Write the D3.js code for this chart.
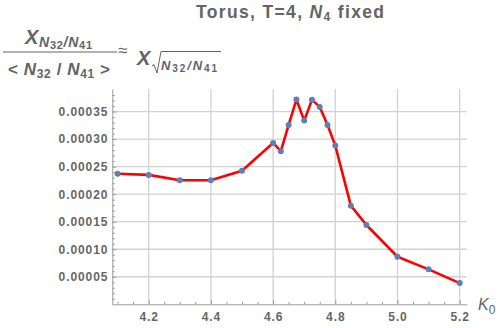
<!DOCTYPE html>
<html>
<head>
<meta charset="utf-8">
<script src="https://cdn.jsdelivr.net/npm/d3@7"></script>
<style>
  body { margin: 0; background: #fff; }
  svg { font-family: "Liberation Sans", Arial, sans-serif; }
  .tickLabel { font-size: 12px; font-weight: bold; fill: #666; letter-spacing: 0.9px; }
</style>
</head>
<body>
<svg id="chart" width="500" height="328"></svg>
<script>
const kValues = [4.1, 4.2, 4.3, 4.4, 4.5, 4.6, 4.625, 4.65, 4.675, 4.7, 4.725, 4.75, 4.775, 4.8, 4.85, 4.9, 5.0, 5.1, 5.2];
const chiValues = [0.000237, 0.000235, 0.0002253, 0.0002253, 0.0002427, 0.0002931, 0.000278, 0.0003258, 0.0003718,
    0.0003336, 0.0003713, 0.0003585, 0.0003258, 0.0002882, 0.0001791, 0.000144, 0.0000864, 0.0000635, 0.0000385];
const xTicks = [4.2, 4.4, 4.6, 4.8, 5.0, 5.2];
const yTicks = [0.00005, 0.0001, 0.00015, 0.0002, 0.00025, 0.0003, 0.00035];

const axisColor = '#9a9a9a';
const gridColor = '#d2d2d2';
const textColor = '#646464';

const svg = d3.select('#chart');

const x = d3.scaleLinear().domain([4.083, 5.2225]).range([112.3, 466.7]);
const y = d3.scaleLinear().domain([0, 0.000391]).range([304.3, 89]);

// grid
svg.append('g')
    .selectAll('line')
    .data(xTicks)
    .join('line')
        .attr('x1', d => x(d)).attr('x2', d => x(d))
        .attr('y1', y.range()[1]).attr('y2', y.range()[0])
        .style('stroke', gridColor).style('stroke-width', 1.3);

svg.append('g')
    .selectAll('line')
    .data(yTicks)
    .join('line')
        .attr('x1', x.range()[0]).attr('x2', x.range()[1])
        .attr('y1', d => y(d)).attr('y2', d => y(d))
        .style('stroke', gridColor).style('stroke-width', 1.3);

// minor ticks
const xMinor = d3.range(4.1, 5.21, 0.05).filter(v => !xTicks.some(t => Math.abs(t - v) < 1e-6));
const yMinor = d3.range(0.00001, 0.00039, 0.00001).filter(v => !yTicks.some(t => Math.abs(t - v) < 1e-9));

const xAxis = svg.append('g').attr('transform', `translate(0, ${y(0)})`);
xAxis.call(d3.axisBottom(x).tickValues(xTicks).tickSize(-4).tickFormat(d3.format('.1f')).tickSizeOuter(0));
xAxis.append('g').call(d3.axisBottom(x).tickValues(xMinor).tickSize(-2.5).tickFormat('').tickSizeOuter(0))
    .select('.domain').remove();

const yAxis = svg.append('g').attr('transform', `translate(${x.range()[0]}, 0)`);
yAxis.call(d3.axisLeft(y).tickValues(yTicks).tickSize(-4).tickFormat(d3.format('.5f')).tickSizeOuter(0));
yAxis.append('g').call(d3.axisLeft(y).tickValues(yMinor).tickSize(-2.5).tickFormat('').tickSizeOuter(0))
    .select('.domain').remove();

svg.selectAll('.domain').style('stroke', axisColor).style('stroke-width', 1);
svg.selectAll('.tick line').style('stroke', axisColor);
svg.selectAll('.tick text').classed('tickLabel', true).attr('font-size', null).attr('font-family', null);
xAxis.selectAll('.tick text').attr('y', 8);
yAxis.selectAll('.tick text').attr('x', -4);

// line and points
const line = d3.line().x((d, i) => x(kValues[i])).y(d => y(d));
svg.append('path')
    .datum(chiValues)
    .attr('d', line)
    .style('fill', 'none')
    .style('stroke', '#ff0000')
    .style('stroke-width', 2.6)
    .style('stroke-linejoin', 'round');

svg.selectAll('.pt')
    .data(chiValues)
    .join('circle')
        .classed('pt', true)
        .attr('cx', (d, i) => x(kValues[i]))
        .attr('cy', d => y(d))
        .attr('r', 3)
        .style('fill', '#5e81b5');

// title
svg.append('text')
    .attr('x', 196).attr('y', 17.5)
    .attr('textLength', 188).attr('lengthAdjust', 'spacing')
    .style('font-size', '17.5px').style('font-weight', 'bold').style('fill', textColor)
    .html('Torus, T=4, <tspan font-style="italic">N</tspan><tspan font-size="12px" dy="3">4</tspan><tspan dy="-3"> fixed</tspan>');

// x label
svg.append('text')
    .attr('x', 478).attr('y', 310)
    .style('font-size', '16px').style('font-style', 'italic').style('fill', textColor)
    .html('K<tspan font-style="normal" font-size="12px" dy="4">0</tspan>');

// y label: fraction
const lab = svg.append('g').style('fill', textColor).style('font-weight', 'bold');
lab.append('text')
    .attr('x', 25).attr('y', 44)
    .attr('textLength', 67).attr('lengthAdjust', 'spacing')
    .style('font-size', '20px')
    .html('<tspan font-style="italic">X</tspan>' +
        '<tspan font-size="14px" dy="3" font-style="italic">N</tspan><tspan font-size="11px" dy="2">32</tspan>' +
        '<tspan font-size="14px" dy="-2" font-style="italic">/N</tspan><tspan font-size="11px" dy="2">41</tspan>');
lab.append('line')
    .attr('x1', 3).attr('x2', 117).attr('y1', 52).attr('y2', 52)
    .style('stroke', textColor).style('stroke-width', 1);
lab.append('text')
    .attr('x', 8).attr('y', 75)
    .attr('textLength', 102).attr('lengthAdjust', 'spacing')
    .style('font-size', '17px')
    .html('&lt; <tspan font-style="italic">N</tspan><tspan font-size="12px" dy="3">32</tspan>' +
        '<tspan dy="-3"> / </tspan><tspan font-style="italic">N</tspan><tspan font-size="12px" dy="3">41</tspan><tspan dy="-3"> &gt;</tspan>');
lab.append('text')
    .attr('x', 118).attr('y', 56)
    .style('font-size', '17px').style('font-weight', 'normal')
    .text('≈');
lab.append('text')
    .attr('x', 137).attr('y', 65)
    .style('font-size', '20px').style('font-style', 'italic')
    .text('X');
lab.append('path')
    .attr('d', 'M152,66 L154,64.5 L157,73 L161,51.5 L221,51.5')
    .style('fill', 'none').style('stroke', textColor).style('stroke-width', 1);
lab.append('text')
    .attr('x', 161).attr('y', 70)
    .attr('textLength', 56).attr('lengthAdjust', 'spacing')
    .style('font-size', '13px')
    .html('<tspan font-style="italic">N</tspan><tspan font-size="10px" dy="2">32</tspan>' +
        '<tspan dy="-2" font-style="italic">/N</tspan><tspan font-size="10px" dy="2">41</tspan>');
</script>
</body>
</html>
